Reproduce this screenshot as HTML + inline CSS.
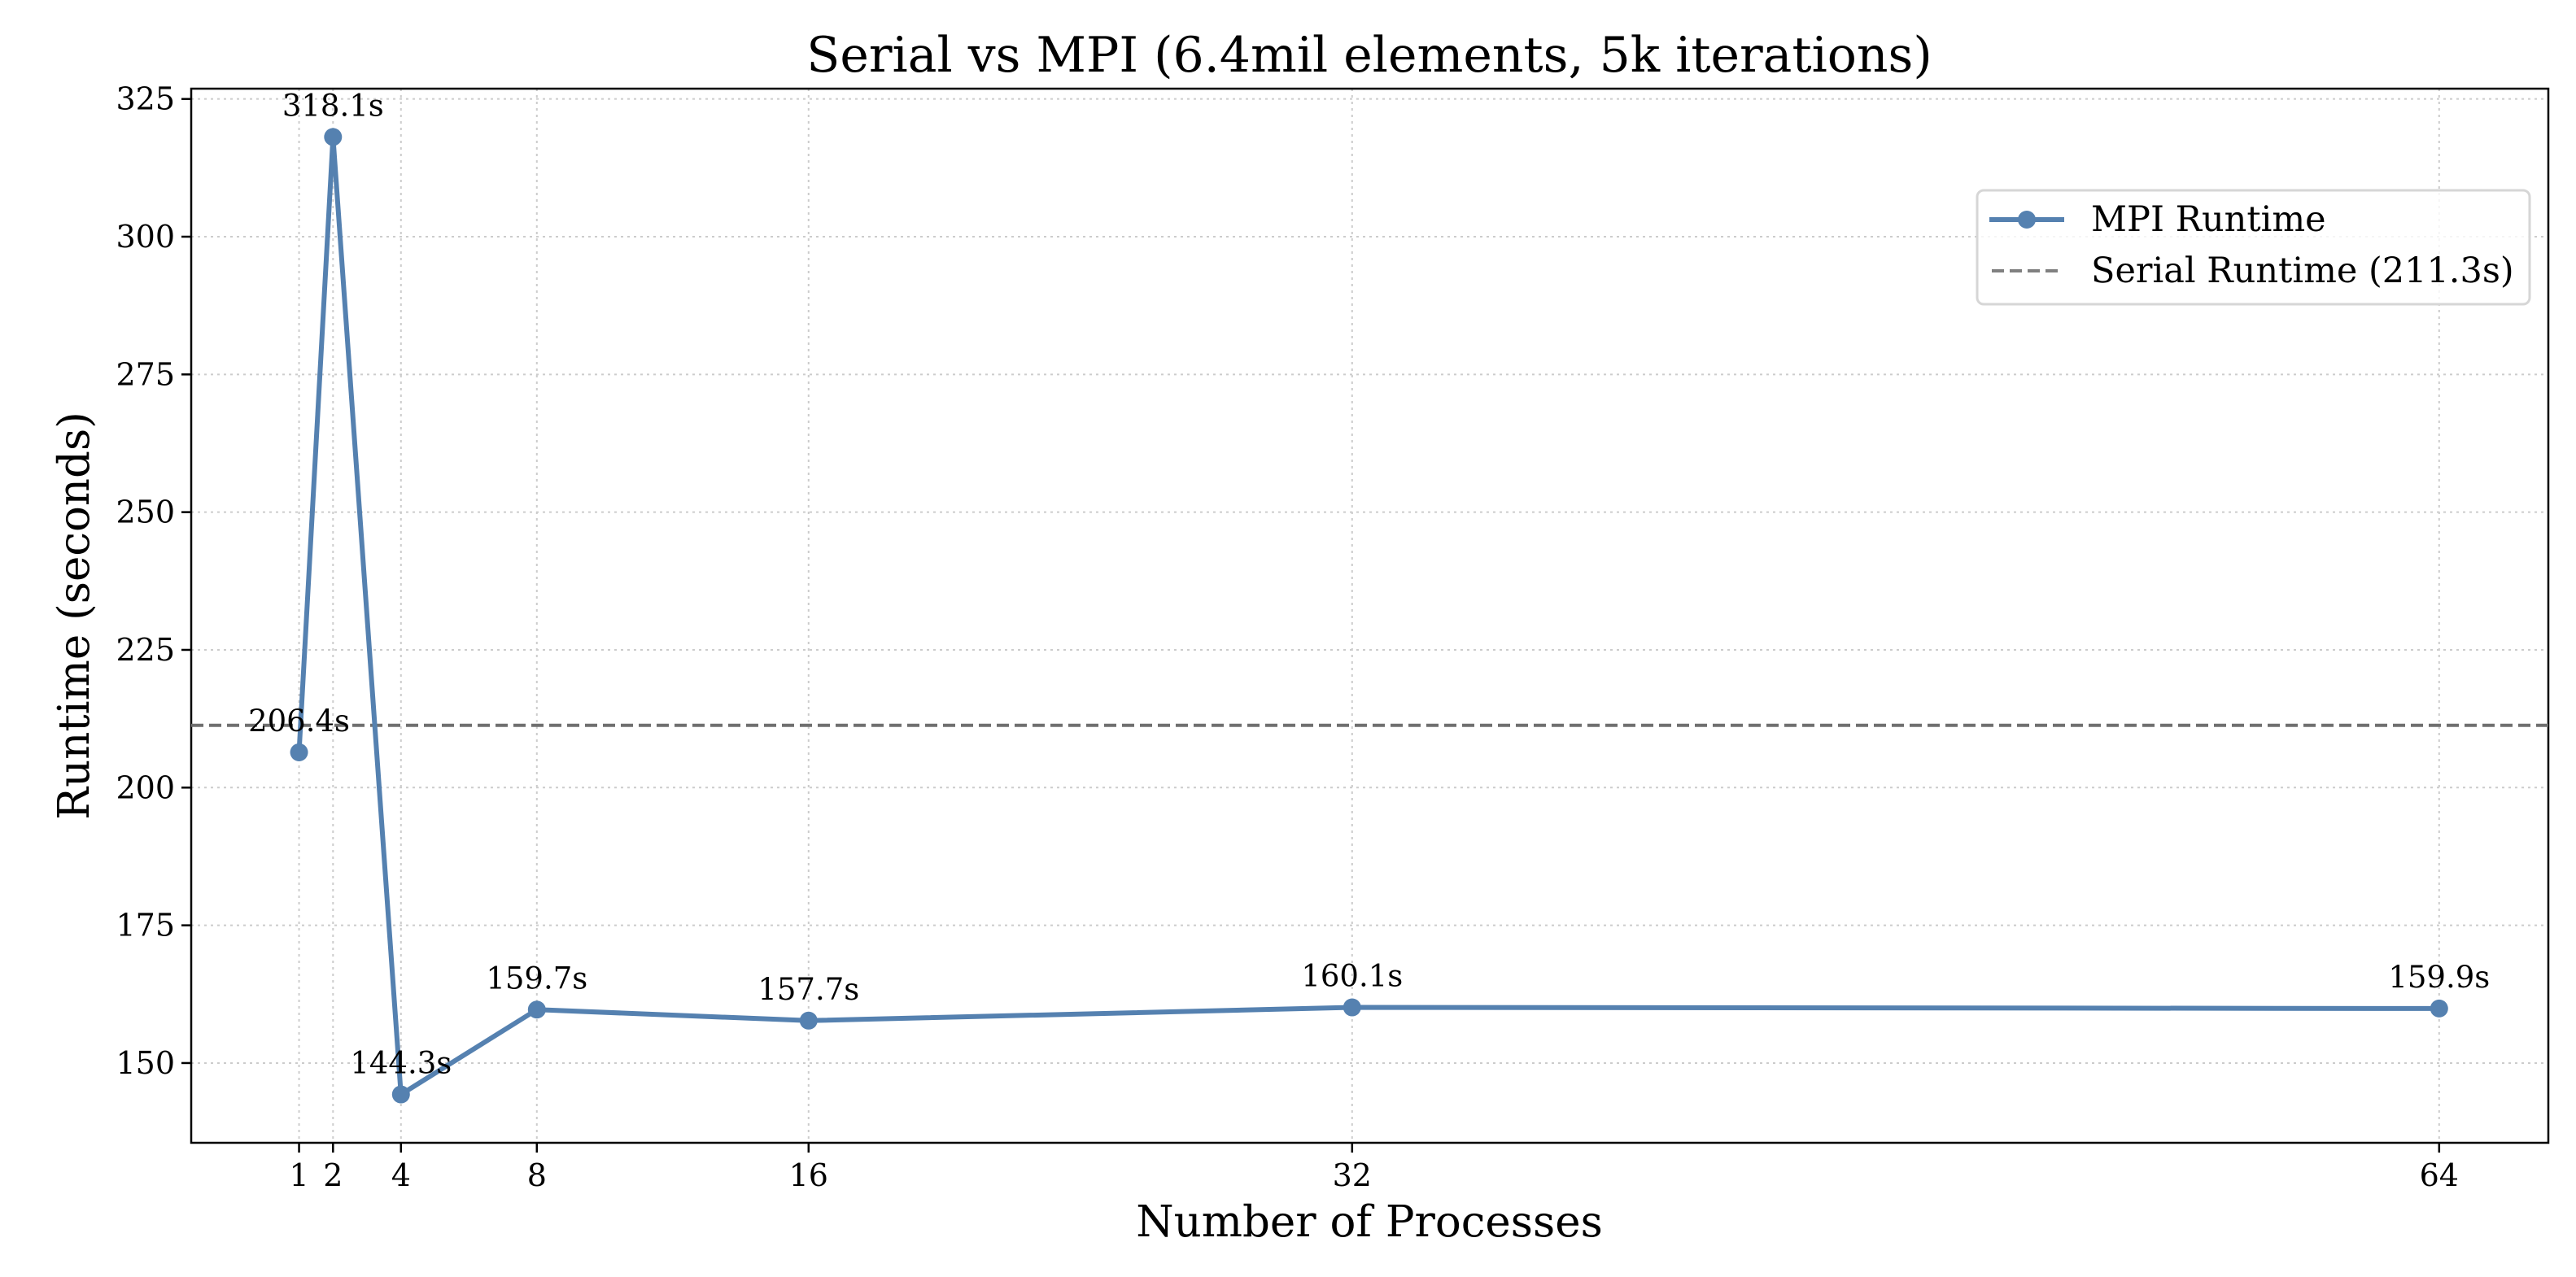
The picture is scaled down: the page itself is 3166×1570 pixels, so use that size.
<!DOCTYPE html>
<html><head><meta charset="utf-8"><style>
html,body{margin:0;padding:0;background:#fff}
svg{display:block;font-family:"DejaVu Serif","Liberation Serif",serif}
</style></head><body>
<svg id="chart" width="3166" height="1570" viewBox="0 0 3166 1570" xmlns="http://www.w3.org/2000/svg">
<rect width="3166" height="1570" fill="#fff"/>
<text x="1683" y="88" text-anchor="middle" font-size="60">Serial vs MPI (6.4mil elements, 5k iterations)</text>
<g id="grid"></g>
<g id="axes"></g>
<g id="series"></g>
<text x="1683" y="1520" text-anchor="middle" font-size="53">Number of Processes</text>
<text transform="translate(109,757) rotate(-90)" text-anchor="middle" font-size="53">Runtime (seconds)</text>
<g>
<rect x="2430" y="234" width="679" height="140" rx="8" fill="#fff" fill-opacity="0.8" stroke="#d6d6d6" stroke-width="3"/>
<line x1="2445" y1="270" x2="2537" y2="270" stroke="#5581b0" stroke-width="6"/>
<circle cx="2491" cy="270" r="11" fill="#5581b0"/>
<text x="2570" y="284" font-size="43">MPI Runtime</text>
<line x1="2448" y1="333" x2="2534" y2="333" stroke="#808080" stroke-width="4" stroke-dasharray="15,7"/>
<text x="2570" y="347" font-size="43">Serial Runtime (211.3s)</text>
</g>
</svg>
<script>
const processes = [1, 2, 4, 8, 16, 32, 64];
const runtimes = [206.4, 318.1, 144.3, 159.7, 157.7, 160.1, 159.9];
const serialRuntime = 211.3;
const yTicks = [150, 175, 200, 225, 250, 275, 300, 325];
const xTicks = [1, 2, 4, 8, 16, 32, 64];

const L = 235, R = 3132, T = 109, B = 1405;
function xs(v){ return 492.8 + (v - 4) * 41.75; }
function ys(v){ return 291 + (300 - v) * 6.773; }
const NS = "http://www.w3.org/2000/svg";
function mk(tag, attrs, parent){
  const e = document.createElementNS(NS, tag);
  for (const k in attrs) e.setAttribute(k, attrs[k]);
  parent.appendChild(e); return e;
}
const grid = document.getElementById('grid');
const axes = document.getElementById('axes');
const series = document.getElementById('series');

yTicks.forEach(v => {
  const y = ys(v);
  const g = mk('line', {x1:L, x2:R, y1:y, y2:y, stroke:'#cccccc', 'stroke-width':2, 'stroke-dasharray':'3,5'}, grid);
  
  
  const t = mk('line', {x1:L-12, x2:L, y1:y, y2:y, stroke:'#000', 'stroke-width':2.5}, axes);
  
  
  const lb = mk('text', {x:L-20, y:y+13, 'text-anchor':'end', 'font-size':38}, axes);
  
  
  lb.textContent = v;
});
xTicks.forEach(v => {
  const x = xs(v);
  const g = mk('line', {x1:x, x2:x, y1:T, y2:B, stroke:'#cccccc', 'stroke-width':2, 'stroke-dasharray':'3,5'}, grid);
  
  
  const t = mk('line', {x1:x, x2:x, y1:B, y2:B+12, stroke:'#000', 'stroke-width':2.5}, axes);
  
  
  const lb = mk('text', {x:x, y:B+53, 'text-anchor':'middle', 'font-size':38}, axes);
  
  
  lb.textContent = v;
});
const frame = mk('rect', {x:L, y:T, width:R-L, height:B-T, fill:'none', stroke:'#000', 'stroke-width':2.5}, axes);



const sy = ys(serialRuntime);
const sl = mk('line', {x1:L, x2:R, y1:sy, y2:sy, stroke:'#6f6f6f', 'stroke-width':4, 'stroke-dasharray':'15,7'}, series);



const pts = processes.map((p,i) => xs(p) + ',' + ys(runtimes[i])).join(' ');
const pl = mk('polyline', {points:pts, fill:'none', stroke:'#5581b0', 'stroke-width':6, 'stroke-linejoin':'round'}, series);


processes.forEach((p,i) => {
  const c = mk('circle', {cx:xs(p), cy:ys(runtimes[i]), r:11, fill:'#5581b0'}, series);
  
  
  const t = mk('text', {x:xs(p), y:ys(runtimes[i]) - 26, 'text-anchor':'middle', 'font-size':37}, series);
  
  
  t.textContent = runtimes[i].toFixed(1) + 's';
});
</script>
</body></html>
